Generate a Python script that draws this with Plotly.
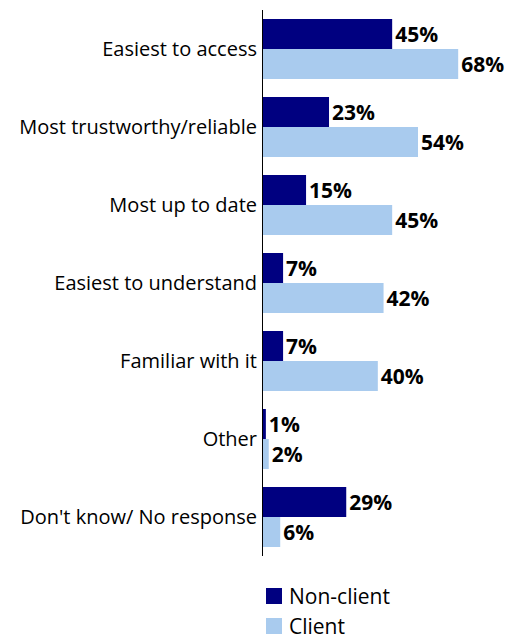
import plotly.graph_objects as go

categories = [
    "Easiest to access",
    "Most trustworthy/reliable",
    "Most up to date",
    "Easiest to understand",
    "Familiar with it",
    "Other",
    "Don't know/ No response",
]
non_client = [45, 23, 15, 7, 7, 1, 29]
client = [68, 54, 45, 42, 40, 2, 6]

series_names = ["Non-client", "Client"]
series_colors = ["#000080", "#A9CBEE"]

FONT = "Open Sans, sans-serif"
W, H = 509, 640
L, T = 263, 10
PLOT_BOTTOM = 556  # px from top where the bar area ends; key sits below it

paper_w = W - L
paper_h = H - T


def px_x(px):
    return (px - L) / paper_w


def px_y(py):
    return (H - py) / paper_h


fig = go.Figure()
for name, values, color in zip(series_names, [non_client, client], series_colors):
    fig.add_trace(go.Bar(
        y=categories, x=values, orientation="h", name=name,
        marker=dict(color=color, line=dict(width=0)),
        text=[f"<b>{v}%</b>" for v in values], textposition="outside",
        textfont=dict(family=FONT, size=21, color="#000000"),
        constraintext="none", cliponaxis=False, showlegend=False,
    ))

# Key below the bars: square swatch + series name, one row per series
for i, (name, color) in enumerate(zip(series_names, series_colors)):
    cy = 596 + 30 * i
    fig.add_shape(
        type="rect", xref="paper", yref="paper",
        x0=px_x(266), x1=px_x(282), y0=px_y(cy + 8), y1=px_y(cy - 8),
        fillcolor=color, line=dict(width=0),
    )
    fig.add_annotation(
        xref="paper", yref="paper", x=px_x(288), y=px_y(cy),
        xanchor="left", yanchor="middle", showarrow=False,
        text=name, font=dict(family=FONT, size=21, color="#000000"),
        borderpad=0,
    )

fig.update_layout(
    width=W, height=H,
    margin=dict(l=L, r=0, t=T, b=0),
    barmode="group", bargap=0.23, bargroupgap=0,
    plot_bgcolor="white", paper_bgcolor="white",
    font=dict(family=FONT, size=20, color="#000000"),
    showlegend=False,
)
fig.update_xaxes(range=[0, 85.7], visible=False, showgrid=False, zeroline=False)
fig.update_yaxes(
    domain=[px_y(PLOT_BOTTOM), 1],
    autorange="reversed", showgrid=False, zeroline=False,
    showline=True, linecolor="#000000", linewidth=1,
    ticks="", ticklabelstandoff=1,
    tickfont=dict(family=FONT, size=20, color="#000000"),
)

fig.write_html("out.html")
